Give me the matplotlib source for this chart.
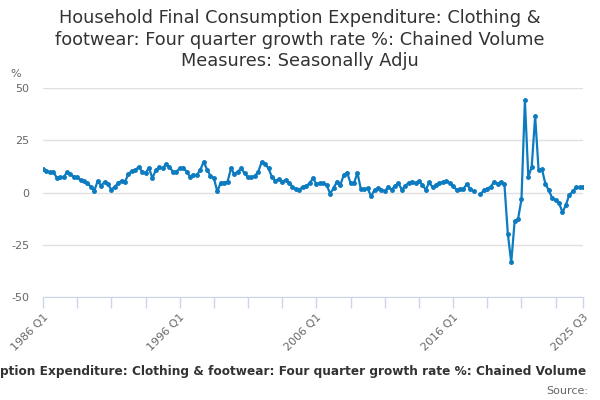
import numpy as np
import matplotlib
matplotlib.use("Agg")
import matplotlib.pyplot as plt

# Four quarter growth rate %, 1986 Q1 .. 2025 Q3
growth = [
    11.1, 10.3, 9.6, 10.0, 7.1, 7.3, 7.3, 9.6, 8.7, 7.6,
    7.3, 6.0, 5.5, 4.4, 2.8, 0.8, 5.5, 3.3, 5.0, 4.0,
    1.3, 2.8, 4.4, 5.7, 5.2, 8.8, 10.4, 10.7, 12.3, 10.0,
    9.2, 11.9, 6.8, 10.7, 12.0, 11.5, 13.6, 12.3, 10.0, 10.0,
    11.5, 11.9, 10.0, 7.6, 8.4, 8.4, 10.7, 14.7, 11.0, 7.9,
    6.8, 0.5, 4.7, 4.7, 5.2,
    11.5, 8.8, 10.0, 11.5, 9.2, 7.3, 7.3, 7.9, 10.0, 14.7,
    13.6, 11.5, 7.3, 5.7, 6.3, 5.2, 6.0, 4.7, 2.8, 1.6,
    1.3, 2.8, 3.2, 4.4, 6.8, 4.1, 4.4, 4.4, 3.6, -0.6,
    2.0, 5.2, 3.6, 8.4, 9.5, 4.4, 4.4, 9.5, 1.6, 1.7,
    2.0, -1.9, 1.3, 2.0, 1.3, 0.5, 2.8, 1.3, 3.2, 4.4,
    1.3, 3.2, 4.7, 5.2, 4.4, 5.5,
    3.7, 1.3, 4.8, 2.5, 3.7, 4.5, 4.9, 5.6, 4.5, 2.9,
    1.3, 1.9, 1.7, 4.0, 1.7, 0.5, np.nan, -0.8, 1.0, 1.9,
    2.7, 5.2, 4.1, 5.1, 4.1, -19.7, -33.4, -13.8, -12.7, -3.2,
    44.2, 7.3, 12.4, 36.6, 10.8, 11.1, 4.1, 1.0, -2.7, -3.8,
    -5.1, -9.5, -5.9, -1.1, 0.5, 2.5, 2.5, 2.7,
]

quarters = [f"{1986 + i // 4} Q{i % 4 + 1}" for i in range(len(growth))]
labelled = ["1986 Q1", "1996 Q1", "2006 Q1", "2016 Q1", "2025 Q3"]
y_ticks = [-50, -25, 0, 25, 50]

title = ("Household Final Consumption Expenditure: Clothing &\n"
         "footwear: Four quarter growth rate %: Chained Volume\n"
         "Measures: Seasonally Adju")
caption = ("ption Expenditure: Clothing & footwear: "
           "Four quarter growth rate %: Chained Volume")

plt.rcParams['font.family'] = ['DejaVu Sans']

fig = plt.figure(figsize=(6, 4), dpi=100)
ax = fig.add_axes([43 / 600, 1 - 297 / 400, 540 / 600, (297 - 88) / 400])

x = np.arange(len(growth))
ax.plot(x, growth, color='#0c7bc0', lw=1.6, marker='o', ms=2.5, zorder=3)

ax.set_xlim(0, len(growth) - 1)
ax.set_ylim(-50, 50)
ax.set_yticks(y_ticks)
ax.set_yticklabels([str(v) for v in y_ticks])
ax.grid(axis='y', color='#e0e0e0', lw=1)
ax.set_axisbelow(True)

tick_pos = list(range(0, len(growth), 10)) + [len(growth) - 1]
ax.set_xticks(tick_pos)
ax.set_xticklabels([quarters[p] if quarters[p] in labelled else "" for p in tick_pos],
                   rotation=45, ha='right', va='top', rotation_mode='anchor')

for s in ['top', 'right', 'left']:
    ax.spines[s].set_visible(False)
ax.spines['bottom'].set_color('#ccd6eb')
ax.tick_params(axis='x', colors='#ccd6eb', length=8, width=1, labelcolor='#666666',
               labelsize=8, pad=3)
ax.tick_params(axis='y', length=0, labelcolor='#666666', labelsize=8, pad=10)

fig.text(10 / 600, 1 - 74 / 400, "%", color='#666666', fontsize=8, ha='left', va='center')
fig.text(0.5, 1 - 9 / 400, title, ha='center', va='top', fontsize=12.8,
         color='#333333', linespacing=1.26)
fig.text(0, 1 - 372 / 400, caption, ha='left', va='center', fontsize=8.7,
         fontweight='bold', color='#333333')
fig.text(588 / 600, 1 - 391 / 400, "Source:", ha='right', va='center', fontsize=8,
         color='#666666')

plt.savefig("out.png", dpi=100)
